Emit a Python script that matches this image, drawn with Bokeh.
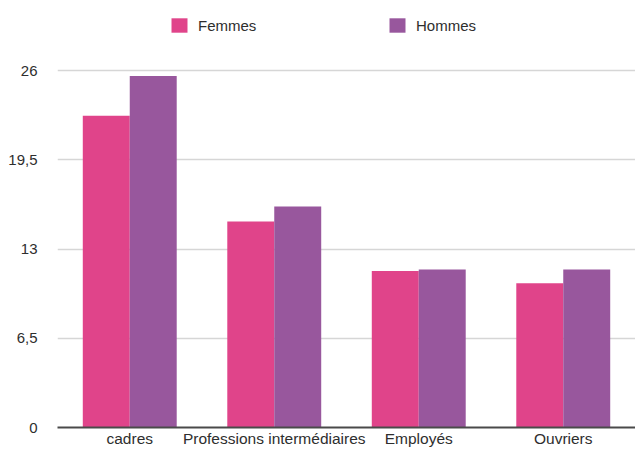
from bokeh.plotting import figure
from bokeh.models import Range1d, FixedTicker, Legend, LegendItem
from bokeh.transform import dodge
from bokeh.embed import file_html
from bokeh.resources import INLINE
from bokeh.models import ColumnDataSource

categories = ["cadres", "Professions intermédiaires", "Employés", "Ouvriers"]
femmes = [22.7, 15.0, 11.4, 10.5]
hommes = [25.6, 16.1, 11.5, 11.5]
y_ticks = [0, 6.5, 13, 19.5, 26]
y_tick_labels = ["0", "6,5", "13", "19,5", "26"]
series_names = ["Femmes", "Hommes"]
colors = ["#E0448A", "#98579D"]

source = ColumnDataSource(data=dict(cat=categories, femmes=femmes, hommes=hommes))

FONT = "Liberation Sans"

p = figure(x_range=categories, y_range=Range1d(0, 31.1),
           width=635, height=449, output_backend="svg", toolbar_location=None,
           min_border_left=57, min_border_right=0, min_border_top=0, min_border_bottom=0)
p.outline_line_color = None
p.background_fill_color = "white"
p.border_fill_color = "white"

bw = 0.325
r1 = p.vbar(x=dodge("cat", -bw / 2, range=p.x_range), top="femmes", width=bw,
            source=source, fill_color=colors[0], line_color=None)
r2 = p.vbar(x=dodge("cat", bw / 2, range=p.x_range), top="hommes", width=bw,
            source=source, fill_color=colors[1], line_color=None)

p.xgrid.grid_line_color = None
p.ygrid.grid_line_color = "#d6d6d6"
p.ygrid.grid_line_width = 1.5

p.yaxis.ticker = FixedTicker(ticks=y_ticks)
p.yaxis.major_label_overrides = {t: l for t, l in zip(y_ticks, y_tick_labels)}
p.yaxis.axis_line_color = None
p.yaxis.major_tick_line_color = None
p.yaxis.minor_tick_line_color = None
p.yaxis.major_tick_out = 0
p.yaxis.major_tick_in = 0
p.yaxis.major_label_standoff = 20
p.yaxis.major_label_text_font = FONT
p.yaxis.major_label_text_font_size = "15px"
p.yaxis.major_label_text_color = "#2e2e2e"

p.xaxis.axis_line_color = "#4a4a4a"
p.xaxis.axis_line_width = 2
p.xaxis.major_tick_line_color = None
p.xaxis.minor_tick_line_color = None
p.xaxis.major_tick_out = 0
p.xaxis.major_tick_in = 0
p.xaxis.major_label_standoff = 2
p.xaxis.major_label_text_font = FONT
p.xaxis.major_label_text_font_size = "15.5px"
p.xaxis.major_label_text_color = "#2e2e2e"

legend = Legend(items=[LegendItem(label=series_names[0], renderers=[r1]),
                       LegendItem(label=series_names[1], renderers=[r2])],
                orientation="horizontal", location=(112, 393),
                glyph_width=20, glyph_height=18, label_standoff=9,
                label_width=189, spacing=0, padding=0, margin=0,
                border_line_color=None, background_fill_alpha=0,
                label_text_font=FONT, label_text_font_size="15px",
                label_text_color="#2e2e2e")
p.add_layout(legend)

open("out.html", "w").write(file_html(p, INLINE))
